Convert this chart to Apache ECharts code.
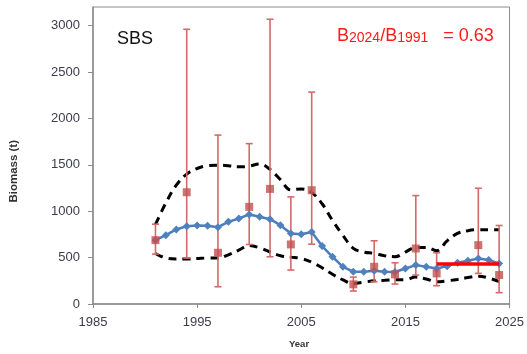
<!DOCTYPE html>
<html>
<head>
<meta charset="utf-8">
<script src="https://cdn.jsdelivr.net/npm/echarts@6/dist/echarts.min.js"></script>
<style>html,body{margin:0;padding:0;background:#fff}#c{width:527px;height:354px}</style>
</head>
<body>
<div id="c"></div>
<script>
// ---- data ----
const years = [1991,1992,1993,1994,1995,1996,1997,1998,1999,2000,2001,2002,2003,2004,2005,2006,2007,2008,2009,2010,2011,2012,2013,2014,2015,2016,2017,2018,2019,2020,2021,2022,2023,2024];
const modelBiomass = [688,742,803,839,845,842,828,885,921,965,940,914,849,760,752,775,624,509,401,348,348,358,348,345,383,419,401,383,408,444,466,491,473,437];
const upperCI = [857,1090,1280,1400,1460,1490,1495,1490,1478,1485,1510,1450,1340,1230,1240,1200,1080,900,740,600,560,545,520,510,560,610,610,575,680,760,790,800,800,800];
const lowerCI = [545,495,485,485,490,495,495,530,580,630,605,560,520,505,490,450,390,320,260,220,235,250,255,260,262,290,270,240,250,265,285,300,280,240];
const surveyYears = [1991,1994,1997,2000,2002,2004,2006,2010,2012,2014,2016,2018,2022,2024];
const surveyBiomass = [688,1204,552,1047,1240,642,1226,212,401,319,598,330,634,312];
const surveyLow = [538,495,186,641,509,366,645,140,240,215,312,197,330,122];
const surveyHigh = [860,2960,1820,1728,3068,1154,2283,290,681,444,1168,552,1247,846];
const recentYears = [2018,2024];
const recentMean = [430,430];
const yTicks = [0,500,1000,1500,2000,2500,3000];
const xTicks = [1985,1995,2005,2015,2025];
const speciesLabel = 'SBS';
const ratioLabel = {yearA:'2024', yearB:'1991', value:'0.63'};

const pair = (xs, ys) => xs.map((x,i)=>[x, ys[i]]);
const axisGray = '#8c8c8c';
const labelColor = '#3c3c4c';
const fontFam = '"Liberation Sans", Arial, sans-serif';

const chart = echarts.init(document.getElementById('c'), null, {renderer:'canvas'});
chart.setOption({
  animation:false,
  backgroundColor:'#fff',
  grid:{left:93, right:13, top:7, bottom:50, show:true, borderColor:axisGray, borderWidth:1, backgroundColor:'transparent'},
  xAxis:{type:'value', min:1985, max:2025, interval:10,
    axisLine:{show:true, lineStyle:{color:axisGray, width:1.5}},
    axisTick:{show:true, length:4, lineStyle:{color:axisGray}},
    axisLabel:{color:labelColor, fontSize:13, fontFamily:fontFam, margin:12, customValues:xTicks, formatter:v=>String(v)},
    splitLine:{show:false}},
  yAxis:{type:'value', min:0, max:3200, interval:500,
    axisLine:{show:true, lineStyle:{color:axisGray, width:1.5}},
    axisTick:{show:true, length:5, lineStyle:{color:axisGray}, customValues:yTicks},
    axisLabel:{color:labelColor, fontSize:13, fontFamily:fontFam, margin:13, customValues:yTicks, formatter:v=>String(v)},
    splitLine:{show:false}},
  series:[
    {type:'line', data:pair(years, upperCI), smooth:0.4, showSymbol:false, z:2,
      lineStyle:{color:'#000', width:3, type:[8,6]}},
    {type:'line', data:pair(years, lowerCI), smooth:0.4, showSymbol:false, z:2,
      lineStyle:{color:'#000', width:3, type:[8,6]}},
    {type:'custom', z:3,
      data:surveyYears.map((y,i)=>[y, surveyLow[i], surveyHigh[i]]),
      renderItem:(params, api)=>{
        const lo = api.coord([api.value(0), api.value(1)]);
        const hi = api.coord([api.value(0), api.value(2)]);
        const w = 3.5;
        const st = {stroke:'#d46a6a', lineWidth:1.6};
        return {type:'group', children:[
          {type:'line', shape:{x1:lo[0], y1:lo[1], x2:hi[0], y2:hi[1]}, style:st},
          {type:'line', shape:{x1:lo[0]-w, y1:lo[1], x2:lo[0]+w, y2:lo[1]}, style:st},
          {type:'line', shape:{x1:hi[0]-w, y1:hi[1], x2:hi[0]+w, y2:hi[1]}, style:st}
        ]};
      }},
    {type:'line', data:pair(years, modelBiomass), z:4, symbol:'diamond', symbolSize:8,
      itemStyle:{color:'#4f81bd'}, lineStyle:{color:'#4a7ebb', width:2.5}},
    {type:'scatter', data:pair(surveyYears, surveyBiomass), z:5, symbol:'rect', symbolSize:8,
      itemStyle:{color:'#c0504d'}},
    {type:'line', data:pair(recentYears, recentMean), z:6, showSymbol:false,
      lineStyle:{color:'#ff0000', width:3.5}}
  ],
  graphic:[
    {type:'text', left:117, top:30, style:{text:speciesLabel, fontSize:18, fontFamily:fontFam, fill:'#111'}},
    {type:'text', left:337, top:25, style:{
      text:'{b|B}{s|'+ratioLabel.yearA+'}{b|/B}{s|'+ratioLabel.yearB+'}{b|   = '+ratioLabel.value+'}',
      rich:{
        b:{fontSize:18, fontFamily:fontFam, fill:'#ff1a1a', color:'#ff1a1a', verticalAlign:'bottom', lineHeight:20},
        s:{fontSize:14, fontFamily:fontFam, fill:'#ff1a1a', color:'#ff1a1a', verticalAlign:'bottom', lineHeight:20, padding:[6,0,0,0]}
      }}},
    {type:'text', left:8, top:140, rotation:Math.PI/2, style:{text:'Biomass (t)', fontSize:11.5, fontWeight:'bold', fontFamily:fontFam, fill:'#333'}},
    {type:'text', left:289, top:339, style:{text:'Year', fontSize:9.5, fontWeight:'bold', fontFamily:fontFam, fill:'#333'}}
  ]
});
</script>
</body>
</html>
